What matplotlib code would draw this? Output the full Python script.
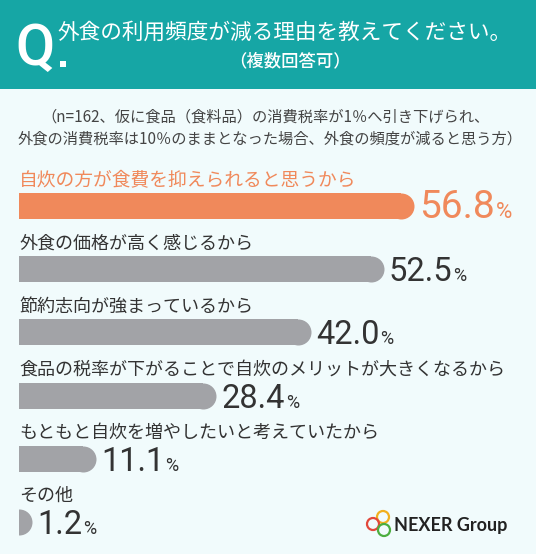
import matplotlib
matplotlib.use('Agg')
import matplotlib.pyplot as plt
from matplotlib.patches import Rectangle, Circle
from matplotlib.transforms import ScaledTranslation

# data
labels = [
    '自炊の方が食費を抑えられると思うから',
    '外食の価格が高く感じるから',
    '節約志向が強まっているから',
    '食品の税率が下がることで自炊のメリットが大きくなるから',
    'もともと自炊を増やしたいと考えていたから',
    'その他',
]
values = [56.8, 52.5, 42.0, 28.4, 11.1, 1.2]
title = '外食の利用頻度が減る理由を教えてください。'
subtitle = '（複数回答可）'
note = [
    '（n=162、仮に食品（食料品）の消費税率が1％へ引き下げられ、',
    '外食の消費税率は10％のままとなった場合、外食の頻度が減ると思う方）',
]

TEAL = '#16a6a5'
BG = '#f1fbfc'
ORANGE = '#f0895b'
GRAY = '#a2a3a7'
DARK = '#333333'
JP = ['Noto Sans CJK JP', 'DejaVu Sans']
NUM = ['Roboto', 'DejaVu Sans']

W, H = 536, 554
fig = plt.figure(figsize=(W / 100, H / 100), dpi=100, facecolor=BG)

# header and decorations, in pixel units
bg = fig.add_axes([0, 0, 1, 1])
bg.set_xlim(0, W)
bg.set_ylim(H, 0)
bg.axis('off')
bg.add_patch(Rectangle((0, 0), W, 89, color=TEAL, lw=0))
bg.text(15, 65, 'Q', color='white', fontsize=41, family=NUM,
        fontweight='medium', va='baseline', ha='left')
bg.add_patch(Rectangle((60, 61), 6, 6, color='white', lw=0))
bg.text(284, 33, title, color='white', fontsize=15.6, family=JP,
        ha='center', va='center')
bg.text(290, 61, subtitle, color='white', fontsize=12.5, family=JP,
        fontweight='medium', ha='center', va='center')
bg.text(266, 117, note[0], color='#444444', fontsize=11, family=JP,
        ha='center', va='center')
bg.text(270, 139, note[1], color='#444444', fontsize=11, family=JP,
        ha='center', va='center')

# logo
bg.add_patch(Circle((383, 517), 6, fill=False, ec='#f2b01e', lw=1.6))
bg.add_patch(Circle((373, 524), 6, fill=False, ec='#e2483b', lw=1.6))
bg.add_patch(Circle((384, 530), 6, fill=False, ec='#4cae3f', lw=1.6))
bg.text(394, 525, 'NEXER Group', color='#222222', fontsize=13,
        family=['Lato', 'DejaVu Sans'], fontweight='bold', va='center')

# bars
SCALE = 6.95   # px per %
PITCH = 63.2   # px per row
TOP = 206      # px, centre of first bar
BAR_H = 26     # px
ax = fig.add_axes([19 / W, 0, (W - 19) / W, 1])
ax.patch.set_alpha(0)
ax.axis('off')
ax.set_xlim(0, (W - 19) / SCALE)
ax.set_ylim((H - TOP) / PITCH, -TOP / PITCH)

r = (BAR_H / 2) / SCALE
shift = ScaledTranslation(5 / 100, 0, fig.dpi_scale_trans)
nums = []
for i, (lab, v) in enumerate(zip(labels, values)):
    c = ORANGE if i == 0 else GRAY
    tc = ORANGE if i == 0 else DARK
    body = max(v - r, 0)
    ax.barh(i, body, height=BAR_H / PITCH, left=0, color=c, lw=0)
    ax.plot([body], [i], 'o', ms=BAR_H * 0.72, color=c, mew=0)
    ax.text(0, i - 0.41, lab, ha='left', va='center',
            fontsize=13.5 if i == 0 else 13, color=tc, family=JP)
    num = ax.text(max(v, r), i + 0.19, f'{v:.1f}', transform=ax.transData + shift,
                  fontsize=28 if i == 0 else 23.5, color=tc, family=NUM,
                  va='baseline', ha='left')
    nums.append(num)

fig.canvas.draw()
renderer = fig.canvas.get_renderer()
for i, num in enumerate(nums):
    ext = num.get_window_extent(renderer)
    x = ax.transData.inverted().transform((ext.x1, 0))[0]
    ax.text(x, i + 0.19, '%', transform=ax.transData + ScaledTranslation(1 / 100, 0, fig.dpi_scale_trans),
            fontsize=16 if i == 0 else 13, color=ORANGE if i == 0 else DARK,
            family=NUM, va='baseline', ha='left')

fig.savefig('out.png', dpi=100, facecolor=BG)
